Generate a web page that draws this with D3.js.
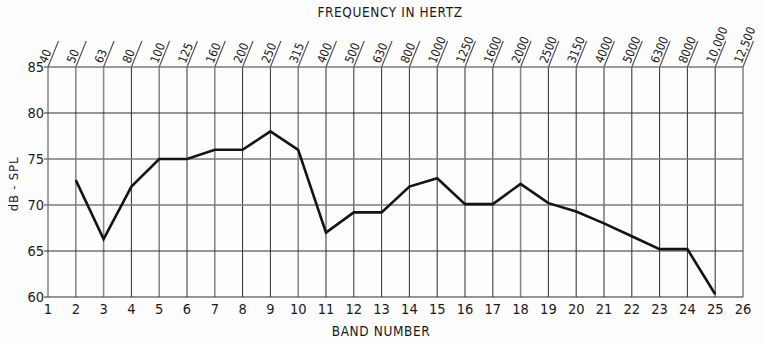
<!DOCTYPE html>
<html>
<head>
<meta charset="utf-8">
<script src="https://cdn.jsdelivr.net/npm/d3@7/dist/d3.min.js"></script>
<style>
  html, body { margin: 0; padding: 0; background: #fdfdfd; }
  svg { display: block; }
  text { font-family: "DejaVu Sans", sans-serif; font-stretch: condensed; fill: #1a1a1a; }
</style>
</head>
<body>
<svg id="chart" width="764" height="343"></svg>
<script>
// Band numbers along the bottom and their 1/3-octave centre frequencies along the top
const bands = d3.range(1, 27);
const frequencies = ["40", "50", "63", "80", "100", "125", "160", "200", "250", "315", "400", "500", "630",
  "800", "1000", "1250", "1600", "2000", "2500", "3150", "4000", "5000", "6300", "8000", "10,000", "12,500"];
const dbTicks = [60, 65, 70, 75, 80, 85];

// Measured sound pressure level per band (dB SPL)
const levelBands = [2, 3, 4, 5, 6, 7, 8, 9, 10, 11, 12, 13, 14, 15, 16, 17, 18, 19, 20, 21, 22, 23, 24, 25];
const levelValues = [72.7, 66.3, 72.0, 75.0, 75.0, 76.0, 76.0, 78.0, 76.0, 67.0, 69.2, 69.2, 72.0, 72.9,
  70.1, 70.1, 72.3, 70.2, 69.3, 68.0, 66.6, 65.2, 65.2, 60.3];

const svg = d3.select("#chart");
const x = d3.scaleLinear().domain([1, 26]).range([48, 743]);
const y = d3.scaleLinear().domain([60, 85]).range([297, 67]);

const lightBands = [1, 2, 3, 5, 7, 10, 18, 26];
const lightLevels = [85, 75, 70];

const grid = svg.append("g");

// Vertical grid lines, one per band
grid.selectAll("line.v").data(bands).join("line")
  .attr("class", "v")
  .attr("x1", d => x(d)).attr("x2", d => x(d))
  .attr("y1", y(85)).attr("y2", y(60))
  .attr("stroke", d => lightBands.includes(d) ? "#8a8a8a" : "#2e2e2e")
  .attr("stroke-width", d => lightBands.includes(d) ? 1.6 : 1);

// Horizontal grid lines every 5 dB
grid.selectAll("line.h").data(dbTicks).join("line")
  .attr("class", "h")
  .attr("x1", x(1) - 4).attr("x2", x(26))
  .attr("y1", d => y(d)).attr("y2", d => y(d))
  .attr("stroke", d => lightLevels.includes(d) ? "#7a7a7a" : "#2e2e2e")
  .attr("stroke-width", d => lightLevels.includes(d) ? 1.5 : 1);

// Slanted leaders from the top of each band line up to its frequency label
const ang = 68 * Math.PI / 180;
const lead = 28;
grid.selectAll("line.s").data(bands).join("line")
  .attr("class", "s")
  .attr("x1", d => x(d)).attr("y1", y(85))
  .attr("x2", d => x(d) + lead * Math.cos(ang)).attr("y2", d => y(85) - lead * Math.sin(ang))
  .attr("stroke", "#555").attr("stroke-width", 1.2);

svg.append("g").selectAll("text").data(bands).join("text")
  .attr("transform", d => `translate(${x(d) - 1.5},${y(85) - 3}) rotate(-68)`)
  .attr("font-size", 12)
  .attr("fill", "#3a3a3a")
  .text((d, i) => frequencies[i]);

// Y axis labels
svg.append("g").selectAll("text").data(dbTicks).join("text")
  .attr("x", x(1) - 4).attr("y", d => y(d) + 5)
  .attr("text-anchor", "end")
  .attr("font-size", 14.5)
  .text(d => d);

// Band number labels
svg.append("g").selectAll("text").data(bands).join("text")
  .attr("x", d => x(d)).attr("y", y(60) + 17)
  .attr("text-anchor", "middle")
  .attr("font-size", 14.5)
  .text(d => d);

// Level curve
const line = d3.line().x(d => x(d[0])).y(d => y(d[1]));
svg.append("path")
  .datum(levelBands.map((b, i) => [b, levelValues[i]]))
  .attr("d", line)
  .attr("fill", "none")
  .attr("stroke", "#141414")
  .attr("stroke-width", 2.6)
  .attr("stroke-linejoin", "miter");

// Axis titles
svg.append("text")
  .attr("x", 390).attr("y", 17)
  .attr("text-anchor", "middle")
  .attr("font-size", 13.5)
  .attr("letter-spacing", 0.6)
  .text("FREQUENCY IN HERTZ");

svg.append("text")
  .attr("x", 381).attr("y", 336)
  .attr("text-anchor", "middle")
  .attr("font-size", 13.5)
  .attr("letter-spacing", 0.6)
  .text("BAND NUMBER");

svg.append("text")
  .attr("transform", `translate(18,${(y(60) + y(85)) / 2 + 2}) rotate(-90)`)
  .attr("text-anchor", "middle")
  .attr("font-size", 13)
  .attr("fill", "#777")
  .attr("letter-spacing", 0.8)
  .text("dB - SPL");
</script>
</body>
</html>
